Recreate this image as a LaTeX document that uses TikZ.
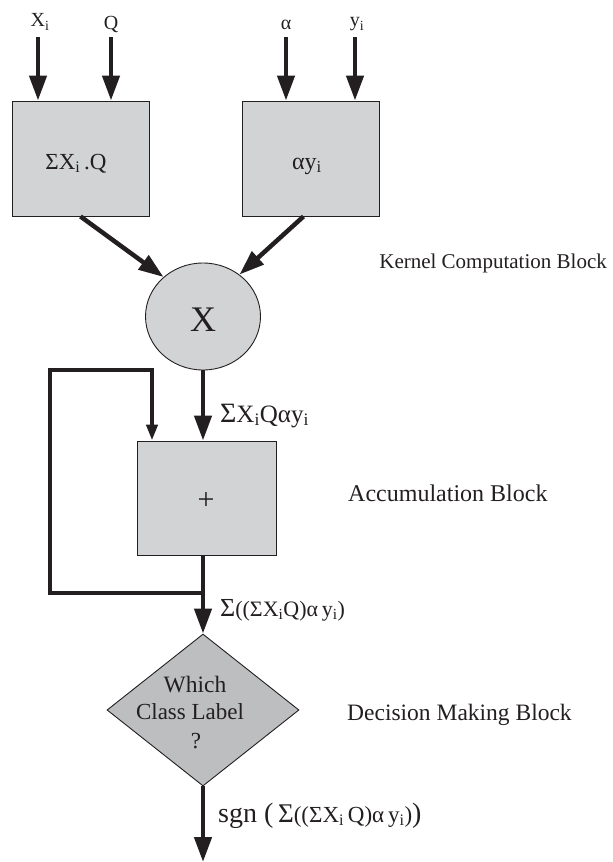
\documentclass[tikz,border=0pt]{standalone}
\usepackage{fontspec}
\setmainfont{Liberation Serif}
\usetikzlibrary{arrows.meta,shapes.geometric}
\definecolor{ink}{HTML}{231F20}
\definecolor{boxfill}{HTML}{D1D3D4}
\definecolor{dfill}{HTML}{BCBEC0}
\newcommand{\fs}[1]{\fontsize{#1}{#1}\selectfont}
\newcommand{\sbi}{\textsubscript{i}}
\begin{document}
\begin{tikzpicture}[x=1pt,y=-1pt,
  blk/.style={draw=ink,line width=0.9pt,fill=boxfill,inner sep=0pt,text=ink},
  flow/.style={draw=ink,line width=4.5pt,-{Triangle[length=25pt,width=17pt]}},
  fback/.style={draw=ink,line width=4.5pt,line join=miter,-{Triangle[length=16pt,width=11pt]}},
  plain/.style={draw=ink,line width=4.5pt},
  lbl/.style={text=ink,inner sep=0pt}]
\useasboundingbox (0,0) rectangle (613,862);

% blocks
\node[blk,minimum width=137pt,minimum height=115pt] (b1) at (80.5,158.5) {};
\node[blk,minimum width=137pt,minimum height=115pt] (b2) at (310.5,158.5) {};
\node[blk,ellipse,minimum width=115pt,minimum height=107pt] (c) at (203,316.5) {};
\node[blk,minimum width=139pt,minimum height=114pt] (b3) at (206.5,498) {};
\node[blk,diamond,fill=dfill,minimum width=192pt,minimum height=152pt] (d) at (203,710) {};

% block texts
\node[lbl,anchor=base] (t1) at (76,169) {\fs{23}ΣX\sbi\,.Q};
\node[lbl,anchor=base] (t2) at (307,169) {\fs{24}αy\sbi};
\node[lbl] (tc) at (203,320) {\fs{36}X};
\node[lbl] (t3) at (206,501) {\fs{30}+};
\node[lbl,anchor=base] (td1) at (195,692) {\fs{23.5}Which};
\node[lbl,anchor=base] (td2) at (190,719) {\fs{23}Class Label};
\node[lbl,anchor=base] (td3) at (196,748) {\fs{23}?};

% inputs
\coordinate (in1) at (38,37);
\coordinate (in2) at (111,37);
\coordinate (in3) at (286,37);
\coordinate (in4) at (355,37);
\node[lbl,anchor=base] (l1) at (40,27) {\fs{20}X\sbi};
\node[lbl,anchor=base] (l2) at (111,29) {\fs{20}Q};
\node[lbl,anchor=base] (l3) at (286,29) {\fs{20}α};
\node[lbl,anchor=base] (l4) at (357,27) {\fs{20}y\sbi};
\draw[flow] (in1) -- (in1 |- b1.north);
\draw[flow] (in2) -- (in2 |- b1.north);
\draw[flow] (in3) -- (in3 |- b2.north);
\draw[flow] (in4) -- (in4 |- b2.north);

% to multiplier
\draw[flow] (b1.south) -- (c.135);
\draw[flow] ([xshift=-7pt]b2.south) -- (c.49);

% multiplier to accumulator
\draw[flow] (c.south) -- (c.south |- b3.north);
\node[lbl,anchor=base west] (s1) at (220,422) {\fs{28}Σ\fs{25}X\sbi Qαy\sbi};

% feedback loop
\coordinate (j) at (203,593);
\coordinate (lb) at (50,593);
\coordinate (lt) at (50,370);
\coordinate (lr) at (152,370);
\draw[plain,line join=miter] (j) -- (lb) -- (lt) -- (lr);
\draw[fback] ([yshift=2.25pt]lr) -- (lr |- b3.north);

% accumulator to decision
\draw[flow] (c.south |- b3.south) -- (d.north);
\node[lbl,anchor=base west] (s2) at (220,616) {\fs{26}Σ\fs{22}((ΣX\sbi Q)α\,y\sbi)};

% decision output
\coordinate (out) at (203,862);
\draw[flow] (d.south) -- (out);
\node[lbl,anchor=base west] (s3) at (218,822) {\fs{28}sgn (\,\fs{27}Σ\fs{23}((ΣX\sbi\,Q)α\,y\sbi)\fs{28})};

% side labels
\node[lbl,anchor=base east] (k1) at (607,268) {\fs{21}Kernel Computation Block};
\node[lbl,anchor=base west] (k2) at (348,501) {\fs{24}Accumulation Block};
\node[lbl,anchor=base west] (k3) at (347,720) {\fs{23.5}Decision Making Block};
\end{tikzpicture}
\end{document}
